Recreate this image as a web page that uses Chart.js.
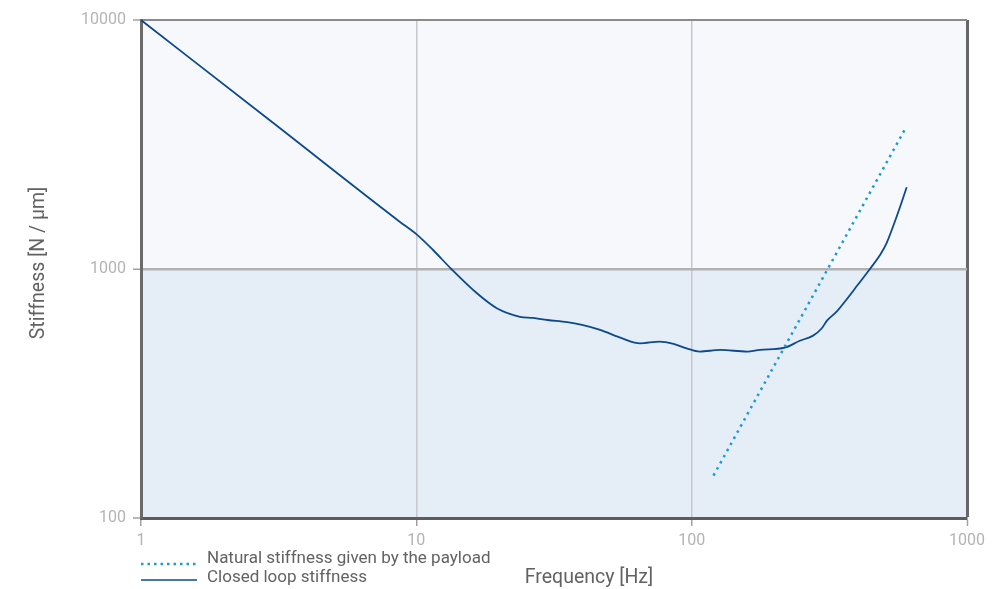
<!DOCTYPE html>
<html>
<head>
<meta charset="utf-8">
<script src="https://cdn.jsdelivr.net/npm/chart.js@4.4.1/dist/chart.umd.min.js"></script>
<style>
  html, body { margin: 0; padding: 0; background: #fff; }
  #stiffness { display: block; }
</style>
</head>
<body>
<canvas id="stiffness" width="1008" height="589"></canvas>
<script>
// ===== Data =====
const freqTicks = [1, 10, 100, 1000];
const stiffTicks = [100, 1000, 10000];

// closed loop stiffness [N/µm] vs frequency [Hz]
const loopFreq = [1, 3, 8.7, 10, 11.5, 13.4, 16.6, 19.6, 23.8, 26.5, 30, 35.3, 40, 46.5, 56, 64.9, 76.7, 86, 95.9, 107, 127, 159, 177, 218, 247, 276, 297, 310, 336, 364, 400, 444, 483, 510, 555, 604];
const loopStiff = [10000, 3883, 1549, 1380, 1192, 1000, 799, 696, 643, 636, 624, 612, 596, 569, 526, 503, 511, 500, 480, 466, 473, 466, 473, 483, 515, 540, 578, 620, 674, 751, 860, 1000, 1138, 1268, 1622, 2129];

// natural stiffness from the payload mass (k ~ f^2)
const payloadFreq = [120, 600];
const payloadStiff = [148, 3700];

const textFont = "Roboto, 'DejaVu Sans', sans-serif";
const loopColor = '#0c4a8c';
const payloadColor = '#1a9ad6';

const toPoints = (xs, ys) => xs.map((x, i) => ({ x: x, y: ys[i] }));

// ===== Background bands + titles + legend =====
const decorPlugin = {
  id: 'decor',
  beforeDraw(chart) {
    const { ctx, chartArea: a, scales } = chart;
    const mid = scales.y.getPixelForValue(1000);
    ctx.save();
    ctx.fillStyle = '#f6f8fc';
    ctx.fillRect(a.left, a.top, a.right - a.left, mid - a.top);
    ctx.fillStyle = '#e5edf6';
    ctx.fillRect(a.left, mid, a.right - a.left, a.bottom - mid);
    ctx.restore();
  },
  afterDraw(chart) {
    const { ctx, chartArea: a } = chart;
    ctx.save();
    ctx.fillStyle = '#626262';
    ctx.textBaseline = 'middle';

    // axis titles
    ctx.font = '19.5px ' + textFont;
    ctx.textAlign = 'center';
    ctx.fillText('Frequency [Hz]', a.left + 448, a.bottom + 60);
    ctx.translate(39, (a.top + a.bottom) / 2 - 6);
    ctx.rotate(-Math.PI / 2);
    ctx.fillText('Stiffness [N / µm]', 0, 0);
    ctx.setTransform(1, 0, 0, 1, 0, 0);

    // legend
    const lx = a.left;
    ctx.lineWidth = 2.5;
    ctx.strokeStyle = payloadColor;
    ctx.setLineDash([2.5, 4]);
    ctx.beginPath();
    ctx.moveTo(lx, a.bottom + 46);
    ctx.lineTo(lx + 56, a.bottom + 46);
    ctx.stroke();
    ctx.setLineDash([]);
    ctx.lineWidth = 1.6;
    ctx.strokeStyle = loopColor;
    ctx.beginPath();
    ctx.moveTo(lx, a.bottom + 62);
    ctx.lineTo(lx + 56, a.bottom + 62);
    ctx.stroke();

    ctx.font = '17px ' + textFont;
    ctx.textAlign = 'left';
    ctx.fillText('Natural stiffness given by the payload', lx + 66, a.bottom + 41);
    ctx.fillText('Closed loop stiffness', lx + 66, a.bottom + 60);
    ctx.restore();
  }
};

// ===== Chart =====
new Chart(document.getElementById('stiffness'), {
  type: 'line',
  data: {
    datasets: [
      {
        label: 'Natural stiffness given by the payload',
        data: toPoints(payloadFreq, payloadStiff),
        borderColor: payloadColor,
        borderWidth: 2.5,
        borderDash: [2.5, 4.5],
        pointRadius: 0,
        fill: false
      },
      {
        label: 'Closed loop stiffness',
        data: toPoints(loopFreq, loopStiff),
        borderColor: loopColor,
        borderWidth: 1.8,
        pointRadius: 0,
        cubicInterpolationMode: 'monotone',
        fill: false
      }
    ]
  },
  options: {
    responsive: false,
    animation: false,
    layout: { padding: { top: 20, right: 41, left: 0, bottom: 0 } },
    plugins: {
      legend: { display: false },
      tooltip: { enabled: false }
    },
    scales: {
      x: {
        type: 'logarithmic',
        min: 1,
        max: 1000,
        afterBuildTicks: scale => { scale.ticks = freqTicks.map(v => ({ value: v })); },
        afterFit: scale => { scale.height = 71; },
        border: { display: true, color: '#5c5c5c', width: 3 },
        grid: {
          color: c => c.tick.value === 1000 ? '#666666' : (c.tick.value === 1 ? 'rgba(0,0,0,0)' : '#c6c8cd'),
          lineWidth: c => c.tick.value === 1000 ? 3 : 1.5,
          tickColor: '#a0a0a0',
          tickWidth: 1.5,
          tickLength: 8
        },
        ticks: {
          color: '#b4b4b4',
          font: { family: textFont, size: 16 },
          padding: 5,
          maxRotation: 0,
          autoSkip: false,
          callback: v => String(v)
        }
      },
      y: {
        type: 'logarithmic',
        min: 100,
        max: 10000,
        afterBuildTicks: scale => { scale.ticks = stiffTicks.map(v => ({ value: v })); },
        afterFit: scale => { scale.width = 141; },
        border: { display: true, color: '#6a6a6a', width: 3 },
        grid: {
          color: c => c.tick.value === 10000 ? '#8a8a8a' : (c.tick.value === 100 ? 'rgba(0,0,0,0)' : '#b2b2b2'),
          lineWidth: c => c.tick.value === 1000 ? 2.5 : 2,
          tickColor: '#a0a0a0',
          tickWidth: 1.5,
          tickLength: 8
        },
        ticks: {
          color: '#b4b4b4',
          font: { family: textFont, size: 16 },
          padding: 7,
          autoSkip: false,
          callback: v => String(v)
        }
      }
    }
  },
  plugins: [decorPlugin]
});
</script>
</body>
</html>
